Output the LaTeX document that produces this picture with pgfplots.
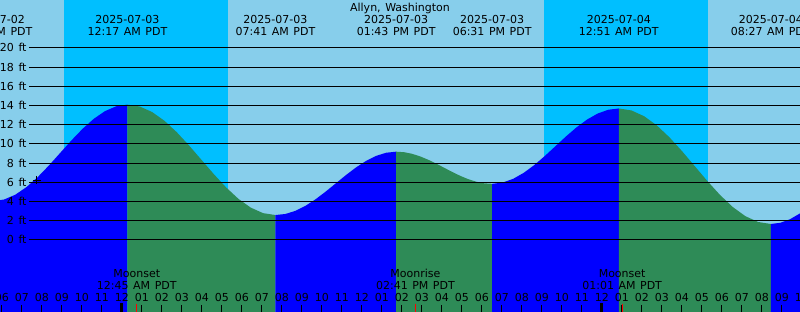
\documentclass[border=0pt]{standalone}
\usepackage{pgfplots}
\pgfplotsset{compat=1.18}
\usepackage{fontspec}
\setmainfont{DejaVu Sans}[WordSpace=1.3]
\definecolor{sky}{HTML}{87CEEB}
\definecolor{night}{HTML}{00BFFF}
\definecolor{rise}{HTML}{0000FF}
\definecolor{fall}{HTML}{2E8B57}
\tikzset{lbl/.style={font=\fontsize{11bp}{12bp}\selectfont, inner sep=0pt, text=black}}
\begin{document}
\begin{tikzpicture}
\begin{axis}[
  name=ax,
  width=800bp, height=312bp, scale only axis,
  xmin=-6.09, xmax=33.91, ymin=-7.5, ymax=25,
  axis lines=none, clip=true,
]
% background (day) and night bands
\addplot[draw=none, fill=sky] coordinates {(-7,-8) (-7,26) (35,26) (35,-8)} -- cycle;
\addplot[draw=none, fill=night] coordinates {(-2.89,-8) (-2.89,26) (5.31,26) (5.31,-8)} -- cycle;
\addplot[draw=none, fill=night] coordinates {(21.11,-8) (21.11,26) (29.285,26) (29.285,-8)} -- cycle;
% tide: rising (blue) and falling (green)
\addplot[draw=none, fill=rise] coordinates {(-6.440,-8) (-6.440,4.05) (-5.880,4.221) (-5.319,4.723) (-4.759,5.522) (-4.199,6.563) (-3.639,7.774) (-3.079,9.075) (-2.518,10.376) (-1.958,11.588) (-1.398,12.628) (-0.838,13.427) (-0.277,13.929) (0.283,14.1) (0.283,-8)} -- cycle;
\addplot[draw=none, fill=fall] coordinates {(0.283,-8) (0.283,14.1) (0.900,13.904) (1.516,13.330) (2.133,12.416) (2.750,11.225) (3.366,9.838) (3.983,8.35) (4.600,6.862) (5.216,5.475) (5.833,4.284) (6.450,3.370) (7.066,2.796) (7.683,2.6) (7.683,-8)} -- cycle;
\addplot[draw=none, fill=rise] coordinates {(7.683,-8) (7.683,2.6) (8.186,2.712) (8.689,3.042) (9.192,3.567) (9.694,4.25) (10.197,5.046) (10.700,5.9) (11.203,6.754) (11.706,7.55) (12.209,8.233) (12.711,8.758) (13.214,9.088) (13.717,9.2) (13.717,-8)} -- cycle;
\addplot[draw=none, fill=fall] coordinates {(13.717,-8) (13.717,9.2) (14.117,9.143) (14.517,8.976) (14.917,8.709) (15.317,8.363) (15.717,7.959) (16.117,7.525) (16.517,7.092) (16.917,6.688) (17.317,6.341) (17.717,6.074) (18.117,5.907) (18.517,5.85) (18.517,-8)} -- cycle;
\addplot[draw=none, fill=rise] coordinates {(18.517,-8) (18.517,5.85) (19.045,5.984) (19.573,6.376) (20.100,7.000) (20.628,7.813) (21.156,8.759) (21.684,9.775) (22.211,10.791) (22.739,11.738) (23.267,12.550) (23.795,13.174) (24.322,13.566) (24.850,13.7) (24.850,-8)} -- cycle;
\addplot[draw=none, fill=fall] coordinates {(24.850,-8) (24.850,13.7) (25.483,13.495) (26.117,12.894) (26.750,11.938) (27.383,10.693) (28.017,9.242) (28.650,7.685) (29.283,6.128) (29.917,4.678) (30.550,3.432) (31.183,2.476) (31.817,1.875) (32.450,1.67) (32.450,-8)} -- cycle;
\addplot[draw=none, fill=rise] coordinates {(32.450,-8) (32.450,1.67) (32.929,1.795) (33.408,2.161) (33.888,2.744) (34.367,3.503) (34.367,-8)} -- cycle;
% level lines
\pgfplotsinvokeforeach{0,2,4,6,8,10,12,14,16,18,20}{
  \addplot[black, line width=1bp] coordinates {(-4.64,#1) (34.5,#1)};
}
% current level marker
\addplot[only marks, mark=+, mark size=4bp, black, mark options={line width=0.8bp}] coordinates {(-4.255,6.25)};
\coordinate (TL) at (rel axis cs:0,1);
\end{axis}
\begin{scope}[shift={(TL)}, x=1bp, y=-1bp]
  % title
  \node[lbl, anchor=base] at (400,12) {Allyn, Washington};
  % tide event labels
  \foreach \t/\d/\h in {-6.44/2025-07-02/05:34 PM PDT, 0.283/2025-07-03/12:17 AM PDT, 7.683/2025-07-03/07:41 AM PDT, 13.717/2025-07-03/01:43 PM PDT, 18.517/2025-07-03/06:31 PM PDT, 24.85/2025-07-04/12:51 AM PDT, 32.45/2025-07-04/08:27 AM PDT}{
    \node[lbl, anchor=base] at ({121.8+20*\t},24) {\d};
    \node[lbl, anchor=base] at ({121.8+20*\t},36) {\h};
  }
  % level labels
  \foreach \v in {0,2,...,20}{
    \node[lbl, anchor=base east] at (26.7,{240-9.6*\v+4}) {\v\ ft};
  }
  % moon events
  \foreach \t/\e/\h in {0.75/Moonset/12:45 AM PDT, 14.683/Moonrise/02:41 PM PDT, 25.017/Moonset/01:01 AM PDT}{
    \node[lbl, anchor=base] at ({121.8+20*\t},278) {\e};
    \node[lbl, anchor=base] at ({121.8+20*\t},290) {\h};
  }
  % hour labels and ticks
  \foreach \hh in {-6,...,34}{
    \pgfmathtruncatemacro\m{mod(\hh+24,12)}
    \ifnum\m=0 \def\m{12}\fi
    \node[lbl, anchor=base] at ({121.8+20*\hh},302) {\ifnum\m<10 0\fi\m};
    \draw[black, line width=1bp] ({121.8+20*\hh},305) -- ({121.8+20*\hh},313);
  }
  \draw[black, line width=3bp] (121.8,303.5) -- (121.8,313);
  \draw[black, line width=3bp] (601.8,303.5) -- (601.8,313);
  \foreach \t in {0.75,14.683,25.017}{
    \draw[red, line width=1bp] ({121.8+20*\t},304) -- ({121.8+20*\t},313);
  }
\end{scope}
\pgfresetboundingbox
\path[use as bounding box] (TL) rectangle ++(800bp,-312bp);
\end{tikzpicture}
\end{document}
